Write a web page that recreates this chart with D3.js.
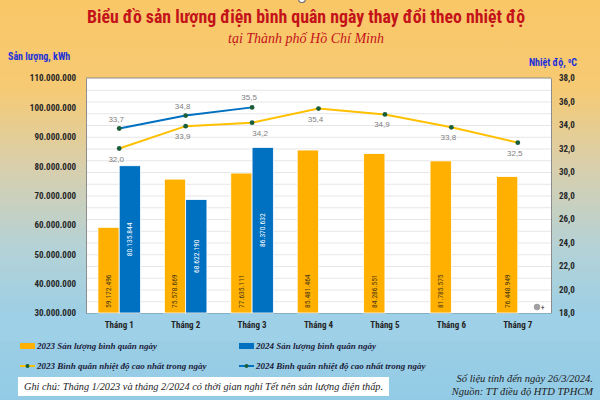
<!DOCTYPE html>
<html>
<head>
<meta charset="utf-8">
<script src="https://cdn.jsdelivr.net/npm/d3@7"></script>
<style>
  html, body { margin: 0; padding: 0; }
  svg { display: block; }
</style>
</head>
<body>
<div id="chart"></div>
<script>
const months = ["Tháng 1", "Tháng 2", "Tháng 3", "Tháng 4", "Tháng 5", "Tháng 6", "Tháng 7"];
const output2023 = [59172496, 75578669, 77635111, 85481464, 84286551, 81785575, 76448949];
const output2024 = [80135844, 68622190, 86370632];
const temp2023 = [32.0, 33.9, 34.2, 35.4, 34.9, 33.8, 32.5];
const temp2024 = [33.7, 34.8, 35.5];
const outputTicks = [30e6, 40e6, 50e6, 60e6, 70e6, 80e6, 90e6, 100e6, 110e6];
const tempTicks = [18, 20, 22, 24, 26, 28, 30, 32, 34, 36, 38];

const width = 600, height = 400;
const margin = { top: 78, right: 49, bottom: 87, left: 86 };
const innerW = width - margin.left - margin.right;
const plotBottom = height - margin.bottom;

const c2023 = "#ffb000", c2024 = "#0070c0", cLine23 = "#ffc000", cMarker = "#1b5e3b";
const numFmt = v => d3.format(",")(v).replace(/,/g, ".");
const tempFmt = v => d3.format(".1f")(v).replace(".", ",");
const sans = "'Liberation Sans Narrow', 'Roboto Condensed', Roboto, sans-serif";
const serif = "'Liberation Serif', 'DejaVu Serif', serif";

const svg = d3.select("#chart").append("svg")
  .attr("width", width).attr("height", height);

// background gradient
const grad = svg.append("defs").append("linearGradient")
  .attr("id", "bg").attr("x1", 0).attr("y1", 0).attr("x2", 0).attr("y2", 1);
[["0%", "#fac766"], ["22%", "#f6ca74"], ["42%", "#d8cfad"], ["62%", "#b4d2d6"], ["78%", "#9ecfe4"], ["100%", "#93cbe6"]]
  .forEach(([o, c]) => grad.append("stop").attr("offset", o).attr("stop-color", c));
svg.append("rect").attr("width", width).attr("height", height).attr("fill", "url(#bg)");

// band below the plot
svg.append("rect").attr("x", 0).attr("y", plotBottom).attr("width", width).attr("height", 28)
  .attr("fill", "#9ed0e7");

// small ring at top
svg.append("circle").attr("cx", 302).attr("cy", -1).attr("r", 3.5)
  .attr("fill", "#fff").attr("stroke", "#777").attr("stroke-width", 1.2);

// titles
svg.append("text").attr("x", 306).attr("y", 23).attr("text-anchor", "middle")
  .attr("font-family", sans).attr("font-weight", "bold").attr("font-size", 18)
  .attr("fill", "#c4121a").attr("textLength", 438).attr("lengthAdjust", "spacingAndGlyphs")
  .text("Biểu đồ sản lượng điện bình quân ngày thay đổi theo nhiệt độ");
svg.append("text").attr("x", 306).attr("y", 43).attr("text-anchor", "middle")
  .attr("font-family", serif).attr("font-style", "italic").attr("font-size", 14)
  .attr("fill", "#c4121a")
  .text("tại Thành phố Hồ Chí Minh");

svg.append("text").attr("x", 8).attr("y", 60)
  .attr("font-family", sans).attr("font-weight", "bold").attr("font-size", 10)
  .attr("fill", "#1e32d8").text("Sản lượng, kWh");
svg.append("text").attr("x", 577).attr("y", 66).attr("text-anchor", "end")
  .attr("font-family", sans).attr("font-weight", "bold").attr("font-size", 10)
  .attr("fill", "#1e32d8").text("Nhiệt độ, ⁰C");

// scales
const x = d3.scaleBand().domain(months).range([margin.left, margin.left + innerW]);
const xInner = d3.scaleBand().domain(["2023", "2024"]).range([0, x.bandwidth()]).paddingInner(0).paddingOuter(0.56);
const yL = d3.scaleLinear().domain([30e6, 110e6]).range([plotBottom, margin.top]);
const yR = d3.scaleLinear().domain([18, 38]).range([plotBottom, margin.top]);

// plot area
svg.append("rect").attr("x", margin.left).attr("y", margin.top + 1)
  .attr("width", innerW).attr("height", plotBottom - margin.top).attr("fill", "#000").attr("opacity", 0.15);
svg.append("rect").attr("x", margin.left).attr("y", margin.top)
  .attr("width", innerW).attr("height", plotBottom - margin.top).attr("fill", "#fff");

// gridlines (every 1 degree on right scale)
svg.append("g").selectAll("line").data(d3.range(19, 38))
  .join("line")
  .attr("x1", margin.left).attr("x2", margin.left + innerW)
  .attr("y1", d => yR(d) + 0.5).attr("y2", d => yR(d) + 0.5)
  .attr("stroke", "#e6e6e6").attr("stroke-width", 1);

// axes
const axisL = svg.append("g").attr("transform", `translate(${margin.left},0)`)
  .call(d3.axisLeft(yL).tickValues(outputTicks).tickFormat(numFmt).tickSize(0).tickPadding(10));
const axisR = svg.append("g").attr("transform", `translate(${margin.left + innerW},0)`)
  .call(d3.axisRight(yR).tickValues(tempTicks).tickFormat(tempFmt).tickSize(0).tickPadding(8));
[axisL, axisR].forEach(g => {
  g.select(".domain").attr("stroke", "#8c8c8c");
  g.selectAll("text").attr("font-family", sans).attr("font-weight", "bold")
    .attr("font-size", 9).attr("fill", "#262626");
});
svg.append("line").attr("x1", margin.left).attr("x2", margin.left + innerW)
  .attr("y1", margin.top).attr("y2", margin.top).attr("stroke", "#8c8c8c");

const axisX = svg.append("g").attr("transform", `translate(0,${plotBottom})`)
  .call(d3.axisBottom(x).tickSize(0).tickPadding(9));
axisX.select(".domain").remove();
axisX.selectAll("text").attr("font-family", sans).attr("font-weight", "bold")
  .attr("font-size", 9).attr("fill", "#262626");

// bars
const bars = [
  ...output2023.map((v, i) => ({ key: "2023", m: months[i], v })),
  ...output2024.map((v, i) => ({ key: "2024", m: months[i], v }))
];
const gBars = svg.append("g");
gBars.selectAll("rect").data(bars).join("rect")
  .attr("x", d => x(d.m) + xInner(d.key))
  .attr("y", d => yL(d.v))
  .attr("width", xInner.bandwidth())
  .attr("height", d => plotBottom - yL(d.v))
  .attr("fill", d => d.key === "2023" ? c2023 : c2024)
  .attr("stroke", "#fff").attr("stroke-width", 0.8);

gBars.selectAll("text").data(bars).join("text")
  .attr("transform", d => {
    const cx = x(d.m) + xInner(d.key) + xInner.bandwidth() / 2;
    const cy = d.key === "2023" ? plotBottom - 5 : (yL(d.v) + plotBottom) / 2;
    return `translate(${cx + 2.5},${cy}) rotate(-90)`;
  })
  .attr("text-anchor", d => d.key === "2023" ? "start" : "middle")
  .attr("font-family", sans).attr("font-size", 7.5)
  .attr("fill", d => d.key === "2023" ? "#4a3a10" : "#fff")
  .text(d => numFmt(d.v));

// temperature lines
const cx = (i) => x(months[i]) + x.bandwidth() / 2;
const line = d3.line().x((d, i) => cx(i)).y(d => yR(d));
svg.append("path").datum(temp2023).attr("d", line)
  .attr("fill", "none").attr("stroke", cLine23).attr("stroke-width", 2);
svg.append("path").datum(temp2024).attr("d", line)
  .attr("fill", "none").attr("stroke", c2024).attr("stroke-width", 2);

[temp2023, temp2024].forEach((series, s) => {
  const g = svg.append("g");
  g.selectAll("circle").data(series).join("circle")
    .attr("cx", (d, i) => cx(i)).attr("cy", d => yR(d)).attr("r", 2.4)
    .attr("fill", cMarker);
  g.selectAll("text").data(series).join("text")
    .attr("x", (d, i) => cx(i) + (s === 0 && i === temp2024.length - 1 ? 8 : -3))
    .attr("y", d => yR(d) + (s === 0 ? 13 : -7))
    .attr("text-anchor", "middle")
    .attr("font-family", "'Liberation Sans', Arial, sans-serif").attr("font-size", 8)
    .attr("fill", "#808080")
    .text(tempFmt);
});

// small icon in plot corner
svg.append("circle").attr("cx", 537).attr("cy", 307).attr("r", 3.2).attr("fill", "#a0a0a0");
svg.append("text").attr("x", 541).attr("y", 310).attr("font-family", sans)
  .attr("font-size", 7).attr("font-weight", "bold").attr("fill", "#666").text("+");

// legend
const legend = [
  { label: "2023 Sản lượng bình quân ngày", type: "bar", color: c2023, lx: 20, ly: 347 },
  { label: "2024 Sản lượng bình quân ngày", type: "bar", color: c2024, lx: 239, ly: 347 },
  { label: "2023 Bình quân nhiệt độ cao nhất trong ngày", type: "line", color: cLine23, lx: 20, ly: 367 },
  { label: "2024 Bình quân nhiệt độ cao nhất trong ngày", type: "line", color: c2024, lx: 239, ly: 367 }
];
const gLeg = svg.append("g");
legend.forEach(d => {
  if (d.type === "bar") {
    gLeg.append("rect").attr("x", d.lx).attr("y", d.ly - 4).attr("width", 15).attr("height", 6).attr("fill", d.color);
  } else {
    gLeg.append("line").attr("x1", d.lx).attr("x2", d.lx + 15).attr("y1", d.ly - 1).attr("y2", d.ly - 1)
      .attr("stroke", d.color).attr("stroke-width", 2);
    gLeg.append("circle").attr("cx", d.lx + 7.5).attr("cy", d.ly - 1).attr("r", 2).attr("fill", cMarker);
  }
  gLeg.append("text").attr("x", d.lx + 17).attr("y", d.ly + 2)
    .attr("font-family", serif).attr("font-style", "italic").attr("font-weight", "bold")
    .attr("font-size", 9).attr("fill", "#1c1c3a").text(d.label);
});

// note box
svg.append("rect").attr("x", 18).attr("y", 377).attr("width", 371).attr("height", 19).attr("fill", "#fff");
svg.append("text").attr("x", 24).attr("y", 390)
  .attr("font-family", serif).attr("font-style", "italic").attr("font-size", 10.5)
  .attr("fill", "#222").attr("textLength", 359).attr("lengthAdjust", "spacingAndGlyphs")
  .text("Ghi chú: Tháng 1/2023 và tháng 2/2024 có thời gian nghỉ Tết nên sản lượng điện thấp.");

svg.append("text").attr("x", 593).attr("y", 382).attr("text-anchor", "end")
  .attr("font-family", serif).attr("font-style", "italic").attr("font-size", 10.5)
  .attr("fill", "#222").text("Số liệu tính đến ngày 26/3/2024.");
svg.append("text").attr("x", 593).attr("y", 395).attr("text-anchor", "end")
  .attr("font-family", serif).attr("font-style", "italic").attr("font-size", 10.5)
  .attr("fill", "#222").text("Nguồn: TT điều độ HTD TPHCM");
</script>
</body>
</html>
